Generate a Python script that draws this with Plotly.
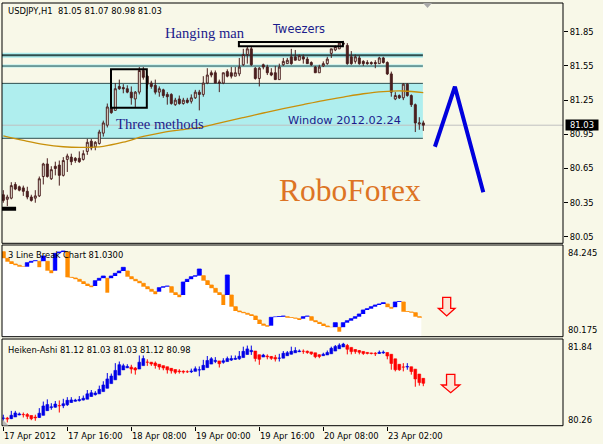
import plotly.graph_objects as go

W, H = 603, 444
BG = "#F8F8E8"
CANDLE = "#4A1E1E"
CYAN = "#AFEEEE"
TEAL = "#2F4F4F"
MA_COL = "#C8900A"
TXT_BLUE = "#1C1C8C"
UI_FONT = "DejaVu Sans"

# ---------------- data ----------------
bar_idx = list(range(106))
bar_open = [80.42,80.38,80.39,80.51,80.49,80.48,80.45,80.40,80.39,80.41,
            80.58,80.69,80.56,80.67,80.68,80.59,80.73,80.75,80.74,80.74,
            80.73,80.80,80.89,80.84,80.87,80.96,81.03,81.18,81.16,81.37,
            81.36,81.35,81.32,81.26,81.32,81.51,81.46,81.40,81.38,81.32,
            81.34,81.30,81.30,81.21,81.26,81.22,81.25,81.24,81.27,81.32,
            81.30,81.40,81.49,81.49,81.41,81.40,81.50,81.49,81.46,81.48,
            81.56,81.65,81.70,81.53,81.44,81.56,81.54,81.49,81.49,81.43,
            81.56,81.57,81.63,81.63,81.60,81.63,81.61,81.58,81.54,81.49,
            81.55,81.57,81.66,81.69,81.70,81.74,81.73,81.63,81.59,81.62,
            81.59,81.58,81.58,81.58,81.57,81.62,81.58,81.48,81.26,81.29,
            81.27,81.39,81.29,81.21,81.04,81.05]
bar_high = [80.46,80.42,80.53,80.53,80.50,80.50,80.49,80.42,80.46,80.58,
            80.70,80.74,80.67,80.71,80.72,80.75,80.78,80.78,80.75,80.80,
            80.81,80.91,80.91,80.89,80.99,81.07,81.22,81.21,81.40,81.43,
            81.39,81.38,81.37,81.33,81.54,81.54,81.47,81.42,81.43,81.37,
            81.35,81.32,81.31,81.27,81.29,81.27,81.27,81.30,81.34,81.34,
            81.46,81.53,81.51,81.51,81.43,81.49,81.52,81.54,81.54,81.62,
            81.70,81.72,81.72,81.54,81.54,81.57,81.56,81.53,81.55,81.57,
            81.62,81.62,81.70,81.69,81.65,81.65,81.63,81.59,81.55,81.56,
            81.59,81.63,81.70,81.73,81.76,81.77,81.75,81.68,81.65,81.64,
            81.60,81.60,81.59,81.60,81.63,81.63,81.59,81.50,81.32,81.30,
            81.40,81.40,81.30,81.22,81.10,81.07]
bar_low = [80.35,80.32,80.38,80.46,80.45,80.41,80.38,80.36,80.35,80.40,
           80.51,80.57,80.55,80.59,80.50,80.58,80.62,80.68,80.70,80.70,
           80.72,80.77,80.81,80.81,80.86,80.93,81.01,81.13,81.16,81.34,
           81.31,81.31,81.21,81.19,81.30,81.43,81.35,81.35,81.30,81.28,
           81.27,81.21,81.21,81.20,81.21,81.21,81.22,81.22,81.26,81.16,
           81.28,81.39,81.45,81.40,81.32,81.39,81.45,81.44,81.46,81.46,
           81.55,81.57,81.55,81.43,81.37,81.52,81.47,81.46,81.43,81.43,
           81.55,81.57,81.56,81.60,81.60,81.57,81.57,81.55,81.49,81.49,
           81.54,81.56,81.62,81.68,81.70,81.73,81.56,81.56,81.57,81.56,
           81.55,81.56,81.56,81.53,81.57,81.57,81.47,81.28,81.25,81.26,
           81.25,81.28,81.19,80.97,80.99,80.98]
bar_close = [80.37,80.40,80.50,80.47,80.46,80.45,80.40,80.37,80.41,80.56,
             80.69,80.58,80.64,80.65,80.59,80.72,80.76,80.71,80.72,80.71,
             80.78,80.88,80.83,80.88,80.97,81.05,81.19,81.14,81.35,81.35,
             81.35,81.32,81.27,81.32,81.51,81.45,81.39,81.37,81.32,81.35,
             81.29,81.28,81.22,81.25,81.22,81.25,81.23,81.27,81.32,81.30,
             81.40,81.47,81.47,81.40,81.40,81.49,81.46,81.46,81.49,81.54,
             81.65,81.70,81.56,81.44,81.53,81.54,81.49,81.47,81.43,81.54,
             81.59,81.60,81.57,81.60,81.64,81.61,81.57,81.56,81.49,81.54,
             81.57,81.61,81.70,81.72,81.75,81.75,81.57,81.57,81.63,81.57,
             81.57,81.57,81.57,81.57,81.62,81.58,81.48,81.32,81.29,81.27,
             81.39,81.29,81.21,81.05,81.05,81.03]

# long moving average (read at every 5th bar)
ma_idx = [0,5,10,15,20,25,30,35,40,45,50,55,60,65,70,75,80,85,90,95,100,105]
ma_val = [80.937,80.897,80.862,80.841,80.836,80.845,80.881,80.931,80.968,80.992,81.016,
          81.058,81.097,81.137,81.175,81.211,81.246,81.277,81.306,81.325,81.330,81.315]

# 3 line break bricks: first open and successive closes
lb_start = 83.949
lb_close = [83.653,83.505,83.402,83.343,83.284,83.254,83.461,83.520,83.550,83.254,
            83.757,83.106,82.988,83.875,83.934,83.979,82.810,82.781,82.721,82.618,
            82.514,82.426,82.367,82.662,82.766,82.869,82.130,82.869,82.988,83.091,
            83.254,82.840,82.721,82.633,82.544,82.396,82.278,82.174,82.056,82.352,
            82.396,82.426,82.130,82.026,81.923,82.603,82.721,82.840,82.884,83.180,
            82.662,82.470,82.322,82.130,82.026,81.582,82.914,81.508,81.316,81.257,
            81.213,81.153,81.094,80.917,80.739,80.665,80.621,81.035,81.050,81.064,
            81.094,81.020,81.005,80.976,80.917,81.064,81.094,80.887,80.813,80.739,
            80.651,80.591,80.577,80.798,80.399,80.798,80.887,80.976,81.064,81.183,
            81.361,81.420,81.508,81.582,81.627,81.686,81.479,81.420,81.716,81.730,
            81.287,81.272,81.242,81.064,81.020]

# drawn objects (time index / price)
zz_idx = [107.9, 112.9, 120.0]
zz_price = [80.841, 81.368, 80.441]
box_price = [80.915, 81.397]
level_thick = 81.644
level_thin = 81.549
objects_end_idx = 104.9
last_price = 81.03
marker_price = 80.297

x_tick_idx = [0, 16, 32, 48, 64, 80, 96]
x_tick_text = ["17 Apr 2012", "17 Apr 16:00", "18 Apr 08:00", "19 Apr 00:00",
               "19 Apr 16:00", "20 Apr 08:00", "23 Apr 02:00"]
price_ticks = [81.85, 81.55, 81.25, 80.95, 80.65, 80.35, 80.05]
price_tick_text = ["81.85", "81.55", "81.25", "80.95", "80.65", "80.35", "80.05"]

# ---------------- derived series ----------------
ha_c = [(o + h + l + c) / 4 for o, h, l, c in zip(bar_open, bar_high, bar_low, bar_close)]
ha_o = []
for i in range(len(bar_idx)):
    if i == 0:
        ha_o.append((bar_open[0] + bar_close[0]) / 2)
    else:
        ha_o.append((ha_o[-1] + ha_c[i - 1]) / 2)
ha_h = [max(h, a, b) for h, a, b in zip(bar_high, ha_o, ha_c)]
ha_l = [min(l, a, b) for l, a, b in zip(bar_low, ha_o, ha_c)]

lb_open = []
po, pc = lb_start, lb_start
for i, cval in enumerate(lb_close):
    if i == 0:
        op = lb_start
    else:
        top, bot = max(po, pc), min(po, pc)
        op = top if cval > top else (bot if cval < bot else pc)
    lb_open.append(op)
    po, pc = op, cval
lb_idx = list(range(len(lb_close)))

# ---------------- helpers ----------------
def px(x):
    return x / W

def py(y):
    return 1 - y / H

XR = [-0.325, 139.925]
XD = [px(2), px(563)]

fig = go.Figure()

# main candles
fig.add_trace(go.Candlestick(
    x=bar_idx, open=bar_open, high=bar_high, low=bar_low, close=bar_close,
    increasing=dict(line=dict(color=CANDLE, width=1), fillcolor=BG),
    decreasing=dict(line=dict(color=CANDLE, width=1), fillcolor=CANDLE),
    whiskerwidth=0, xaxis="x", yaxis="y", hoverinfo="skip"))

fig.add_trace(go.Scatter(x=ma_idx, y=ma_val, mode="lines", line=dict(color=MA_COL, width=1.3, shape="spline"),
                         xaxis="x", yaxis="y", hoverinfo="skip"))

fig.add_trace(go.Scatter(x=zz_idx, y=zz_price, mode="lines", line=dict(color="#0000DD", width=4),
                         xaxis="x", yaxis="y", hoverinfo="skip"))

# line break panel
fx, fy = [], []
for k in lb_idx:
    b = min(lb_open[k], lb_close[k])
    fx += [k - 0.5, k + 0.5]
    fy += [b, b]
fig.add_trace(go.Scatter(x=fx, y=fy, mode="lines", line=dict(width=0), fill="tozeroy",
                         fillcolor="#FFFFFF", xaxis="x2", yaxis="y2", hoverinfo="skip"))
lb_cols = ["#0000FF" if c > o else "#FF8C00" for o, c in zip(lb_open, lb_close)]
fig.add_trace(go.Bar(x=lb_idx, base=[min(o, c) for o, c in zip(lb_open, lb_close)],
                     y=[abs(c - o) for o, c in zip(lb_open, lb_close)], width=1.0,
                     marker=dict(color=lb_cols, line=dict(color=lb_cols, width=0.8)),
                     xaxis="x2", yaxis="y2", hoverinfo="skip"))

# heiken ashi panel
for up, col in ((True, "#0000E6"), (False, "#FF0000")):
    wx, wy = [], []
    for i in bar_idx:
        if (ha_c[i] >= ha_o[i]) == up:
            wx += [i, i, None]
            wy += [ha_l[i], ha_h[i], None]
    fig.add_trace(go.Scatter(x=wx, y=wy, mode="lines", line=dict(color=col, width=1),
                             xaxis="x3", yaxis="y3", hoverinfo="skip"))
ha_cols = ["#0000E6" if c >= o else "#FF0000" for o, c in zip(ha_o, ha_c)]
fig.add_trace(go.Bar(x=bar_idx, base=[min(o, c) for o, c in zip(ha_o, ha_c)],
                     y=[abs(c - o) for o, c in zip(ha_o, ha_c)], width=0.7,
                     marker=dict(color=ha_cols, line=dict(color=ha_cols, width=0.6)),
                     xaxis="x3", yaxis="y3", hoverinfo="skip"))

# ---------------- shapes ----------------
shapes = []
shapes.append(dict(type="rect", xref="x", yref="y", x0=XR[0], x1=objects_end_idx,
                   y0=box_price[0], y1=box_price[1], fillcolor=CYAN, line=dict(width=0), layer="below"))
for p in box_price:
    shapes.append(dict(type="line", xref="x", yref="y", x0=XR[0], x1=objects_end_idx, y0=p, y1=p,
                       line=dict(color=TEAL, width=1), layer="below"))
shapes.append(dict(type="line", xref="x", yref="y", x0=XR[0], x1=objects_end_idx, y0=level_thick, y1=level_thick,
                   line=dict(color=CYAN, width=5), layer="below"))
shapes.append(dict(type="line", xref="x", yref="y", x0=XR[0], x1=objects_end_idx, y0=level_thick, y1=level_thick,
                   line=dict(color=TEAL, width=2), layer="below"))
shapes.append(dict(type="line", xref="x", yref="y", x0=XR[0], x1=objects_end_idx, y0=level_thin, y1=level_thin,
                   line=dict(color=CYAN, width=3), layer="below"))
shapes.append(dict(type="line", xref="x", yref="y", x0=XR[0], x1=objects_end_idx, y0=level_thin, y1=level_thin,
                   line=dict(color=TEAL, width=1), layer="below"))
shapes.append(dict(type="line", xref="x", yref="y", x0=XR[0], x1=XR[1], y0=last_price, y1=last_price,
                   line=dict(color="#C0C0C0", width=1), layer="below"))
shapes.append(dict(type="line", xref="x", yref="y", x0=XR[0], x1=3.2, y0=marker_price, y1=marker_price,
                   line=dict(color="#000000", width=4)))
shapes.append(dict(type="rect", xref="x", yref="y", x0=26.93, x1=35.88, y0=81.183, y1=81.520,
                   line=dict(color="#000000", width=2)))
shapes.append(dict(type="rect", xref="x", yref="y", x0=58.9, x1=84.9, y0=81.722, y1=81.760,
                   line=dict(color="#000000", width=2)))

def down_arrow(xref, yref, cx, hs, hh, ytop, yneck, ytip):
    path = (f"M {cx-hs},{ytop} L {cx+hs},{ytop} L {cx+hs},{yneck} L {cx+hh},{yneck} "
            f"L {cx},{ytip} L {cx-hh},{yneck} L {cx-hs},{yneck} Z")
    return dict(type="path", xref=xref, yref=yref, path=path,
                fillcolor="#FBE6D6", line=dict(color="#FF0000", width=1.3))

shapes.append(down_arrow("x2", "y2", 110.85, 1.0, 2.09, 81.924, 81.436, 81.094))
shapes.append(down_arrow("x3", "y3", 111.85, 1.04, 2.3, 81.197, 81.002, 80.862))

for (y0, y1) in ((3, 243.3), (245, 336.7), (339, 425.7)):
    shapes.append(dict(type="rect", xref="paper", yref="paper", x0=px(2), x1=px(563),
                       y0=py(y1), y1=py(y0), line=dict(color="#000000", width=1)))
shapes.append(dict(type="path", xref="paper", yref="paper",
                   path=f"M {px(423)},{py(3)} L {px(432)},{py(3)} L {px(427.5)},{py(8)} Z",
                   fillcolor="#A8A8A8", line=dict(width=0)))
shapes.append(dict(type="path", xref="paper", yref="paper",
                   path=f"M {px(3)},{py(420)} L {px(3)},{py(425.5)} L {px(8.5)},{py(425.5)} Z",
                   fillcolor="#B8B8B8", line=dict(width=0)))

# ---------------- annotations ----------------
ann = []
def ui_text(text, x, y, size=8.4, color="#000000"):
    return dict(text=text, xref="paper", yref="paper", x=px(x), y=py(y), xanchor="left", yanchor="middle",
                showarrow=False, font=dict(family=UI_FONT, size=size, color=color))

ann.append(ui_text("USDJPY,H1\u00a0 81.05 81.07 80.98 81.03", 6, 10.7))
ann.append(ui_text("3 Line Break Chart 81.0300", 6, 255))
ann.append(ui_text("Heiken-Ashi 81.12 81.03 81.03 81.12 80.98", 6, 350))
for t, y in (("84.245", 252.7), ("80.175", 330), ("81.84", 347.3), ("80.26", 420)):
    ann.append(ui_text(t, 566, y))
for idx, t in zip(x_tick_idx, x_tick_text):
    ann.append(dict(text=t, xref="x3", yref="paper", x=idx, y=py(435.5), xanchor="left", yanchor="middle",
                    xshift=-1, showarrow=False, font=dict(family=UI_FONT, size=8.4, color="#000000")))
ann.append(dict(text="81.03", xref="paper", yref="y", x=px(564.5), y=last_price, xanchor="left",
                yanchor="middle", showarrow=False, bgcolor="#000000", width=31, height=9, borderpad=0.5,
                font=dict(family=UI_FONT, size=8.4, color="#FFFFFF")))

def obj_text(text, x, y, family, size, color):
    return dict(text=text, xref="x", yref="y", x=x, y=y, xanchor="left", yanchor="middle",
                showarrow=False, font=dict(family=family, size=size, color=color))

ann.append(obj_text("Hanging man", 40.0, 81.836, "Liberation Serif", 14.6, TXT_BLUE))
ann.append(obj_text("Tweezers", 66.6, 81.874, "DejaVu Sans", 11.4, TXT_BLUE))
ann.append(obj_text("Three methods", 27.6, 81.04, "Liberation Serif", 14.7, TXT_BLUE))
ann.append(obj_text("Window 2012.02.24", 70.6, 81.069, "DejaVu Sans", 11.3, TXT_BLUE))
ann.append(obj_text("RoboForex", 68.5, 80.454, "Liberation Serif", 31.5, "#DD7424"))

axis_common = dict(showgrid=False, zeroline=False, showline=False, fixedrange=True)
fig.update_layout(
    width=W, height=H, margin=dict(l=0, r=0, t=0, b=0),
    paper_bgcolor=BG, plot_bgcolor=BG, showlegend=False, barmode="overlay",
    xaxis=dict(domain=XD, range=XR, anchor="y", showticklabels=False, ticks="",
               rangeslider=dict(visible=False), **axis_common),
    yaxis=dict(domain=[py(243.3), py(3)], range=[79.994, 82.102], anchor="x", side="right",
               tickvals=price_ticks, ticktext=price_tick_text, ticks="outside", ticklen=4,
               tickcolor="#000000", tickfont=dict(family=UI_FONT, size=8.4, color="#000000"), **axis_common),
    xaxis2=dict(domain=XD, range=XR, anchor="y2", showticklabels=False, ticks="", **axis_common),
    yaxis2=dict(domain=[py(336.7), py(245)], range=[80.175, 84.245], anchor="x2", side="right",
                showticklabels=False, ticks="", **axis_common),
    xaxis3=dict(domain=XD, range=XR, anchor="y3", showticklabels=False, ticks="outside", ticklen=4,
                tickcolor="#000000", tickvals=x_tick_idx, **axis_common),
    yaxis3=dict(domain=[py(425.7), py(339)], range=[80.26, 81.84], anchor="x3", side="right",
                showticklabels=False, ticks="", **axis_common),
    shapes=shapes, annotations=ann,
)

fig.write_html("out.html", config={"displayModeBar": False})

# remove default page margin so the figure sits at the window origin
with open("out.html", "r", encoding="utf-8") as fh:
    html = fh.read()
html = html.replace("<head>", "<head><style>html,body{margin:0;padding:0;background:#F8F8E8;overflow:hidden;}</style>", 1)
with open("out.html", "w", encoding="utf-8") as fh:
    fh.write(html)
